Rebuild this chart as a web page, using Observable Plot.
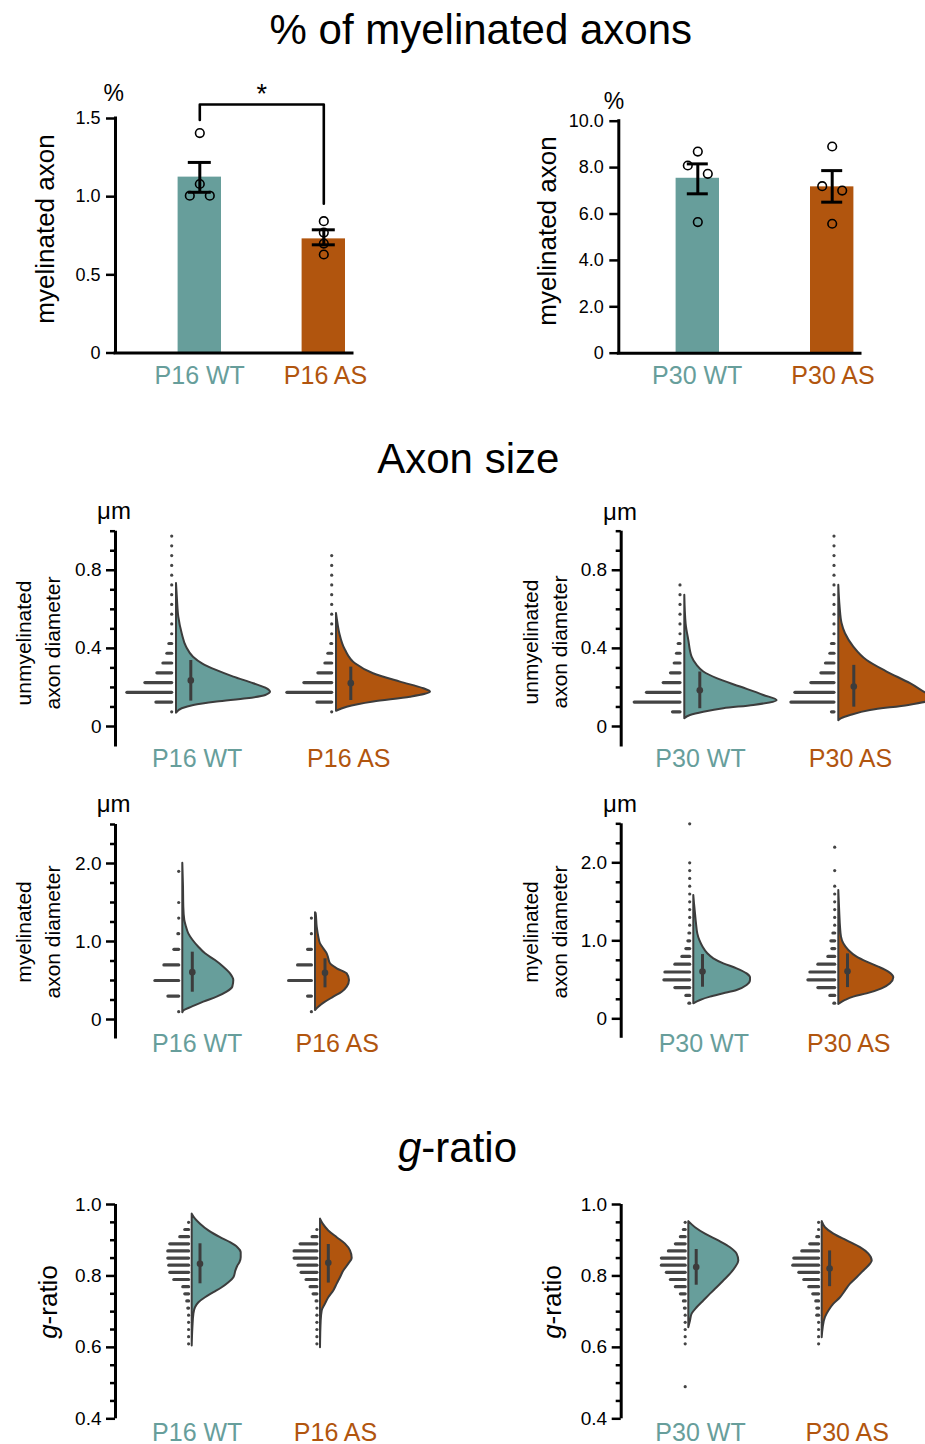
<!DOCTYPE html>
<html>
<head>
<meta charset="utf-8">
<script src="https://cdn.jsdelivr.net/npm/d3@7"></script>
<script src="https://cdn.jsdelivr.net/npm/@observablehq/plot@0.6"></script>
<style>
html, body { margin: 0; padding: 0; background: #fff; }
body { width: 925px; height: 1444px; position: relative; overflow: hidden;
  font-family: "Liberation Sans", Arial, Helvetica, sans-serif; color: #000; }
.t { position: absolute; white-space: nowrap; line-height: 1; }
.r { position: absolute; white-space: nowrap; text-align: center; transform: translate(-50%, -50%) rotate(-90deg); }
.panel { position: absolute; }
.panel svg { display: block; overflow: hidden; }
</style>
</head>
<body>
<script>
// ---------------- DATA ----------------
const groupsP16 = ["P16 WT", "P16 AS"];
const groupsP30 = ["P30 WT", "P30 AS"];

// % of myelinated axons (bar = mean, err = [lo, hi], pts = individual animals)
const pctP16Mean = [1.125, 0.730];
const pctP16Err = [[1.028, 1.219], [0.692, 0.788]];
const pctP16Pts = [[1.407, 1.081, 1.006, 1.006], [0.843, 0.770, 0.700, 0.630]];
const pctP16Ticks = [0, 0.5, 1.0, 1.5];
const pctP30Mean = [7.54, 7.17];
const pctP30Err = [[6.87, 8.16], [6.51, 7.87]];
const pctP30Pts = [[8.69, 8.09, 7.73, 5.65], [8.91, 7.20, 7.01, 5.58]];
const pctP30Ticks = [0, 2, 4, 6, 8, 10];
const sigBracketX = [0, 0, 1, 1];
const sigBracketY = [1.49, 1.59, 1.59, 0.955];

// Unmyelinated axon diameter (µm): kde = [value, density], hist = [bin, count], stat = [mean, lo, hi]
const uP16WT_kde = [[0.068,0],[0.091,5.7],[0.108,17.3],[0.125,40.7],[0.142,70.7],[0.159,89.3],[0.176,94],[0.193,90.7],[0.219,77.3],[0.253,57.3],[0.287,40],[0.321,26],[0.355,17],[0.407,10],[0.475,5.7],[0.56,2.3],[0.646,1],[0.732,0]];
const uP16WT_hist = [[0.075,0],[0.125,19],[0.175,48],[0.225,30],[0.275,18],[0.325,12],[0.375,8],[0.425,6],[0.475,2],[0.525,0],[0.575,0],[0.625,0],[0.675,0],[0.725,0],[0.775,0],[0.825,0],[0.875,0],[0.925,0],[0.975,0]];
const uP16WT_stat = [0.236, 0.130, 0.338];
const uP16AS_kde = [[0.078,0],[0.099,10.7],[0.125,37.3],[0.150,74],[0.176,94],[0.193,87.3],[0.227,64],[0.270,37],[0.321,19],[0.390,9],[0.475,3.3],[0.526,1.5],[0.578,0]];
const uP16AS_hist = [[0.075,0],[0.125,18],[0.175,48],[0.225,31],[0.275,17],[0.325,10],[0.375,7],[0.425,4],[0.475,1],[0.525,0],[0.575,0],[0.625,0],[0.675,0],[0.725,0],[0.775,0],[0.825,0],[0.875,0]];
const uP16AS_stat = [0.222, 0.133, 0.304];
const uP30WT_kde = [[0.040,0],[0.056,5.7],[0.073,19],[0.091,39],[0.108,69],[0.133,92.3],[0.159,79],[0.202,55.7],[0.245,32.3],[0.279,19],[0.313,12.3],[0.355,7.3],[0.441,4],[0.526,1.3],[0.672,0]];
const uP30WT_hist = [[0.075,10.7],[0.125,49],[0.175,36.7],[0.225,20],[0.275,12.7],[0.325,9],[0.375,6.7],[0.425,5],[0.475,2],[0.525,0],[0.575,0],[0.625,0],[0.675,0],[0.725,0]];
const uP30WT_stat = [0.185, 0.091, 0.279];
const uP30AS_kde = [[0.030,0],[0.040,3],[0.056,11.7],[0.082,31.7],[0.108,70],[0.125,88],[0.145,96],[0.168,88],[0.219,71.7],[0.279,48.3],[0.338,28.3],[0.407,15],[0.475,6.7],[0.526,3.3],[0.612,1.3],[0.723,0]];
const uP30AS_hist = [[0.075,5.7],[0.125,46.3],[0.175,42.3],[0.225,26.3],[0.275,16.3],[0.325,11.7],[0.375,7.3],[0.425,5.7],[0.475,3],[0.525,0],[0.575,0],[0.625,0],[0.675,0],[0.725,0],[0.775,0],[0.825,0],[0.875,0],[0.925,0],[0.975,0]];
const uP30AS_stat = [0.205, 0.099, 0.313];

// Myelinated axon diameter (µm)
const mP16WT_kde = [[0.086,0],[0.115,1.7],[0.158,9.3],[0.222,21],[0.286,34.3],[0.350,44.3],[0.415,50],[0.5,51],[0.585,47.7],[0.671,41],[0.756,32.7],[0.842,22.7],[0.927,16],[1.013,10.3],[1.098,6],[1.184,3.7],[1.269,2],[1.440,1],[1.697,0.7],[2.004,0]];
const mP16WT_hist = [[0.1,0],[0.3,14],[0.5,27],[0.7,18],[0.9,8],[1.1,4],[1.3,3],[1.5,2],[1.9,0]];
const mP16WT_stat = [0.607, 0.350, 0.863];
const mP16AS_kde = [[0.115,0],[0.158,3.3],[0.222,10],[0.286,18.3],[0.350,26.7],[0.415,31.7],[0.5,34],[0.585,31.7],[0.650,21.7],[0.714,15],[0.778,13.3],[0.842,11.7],[0.906,8.3],[0.970,5],[1.056,3.3],[1.184,1.7],[1.355,0.7],[1.368,0]];
const mP16AS_hist = [[0.1,0],[0.3,7],[0.5,26],[0.7,17],[0.9,7],[1.1,3],[1.3,0]];
const mP16AS_stat = [0.598, 0.406, 0.778];
const mP30WT_kde = [[0.192,0],[0.235,6.7],[0.278,16.7],[0.320,30],[0.363,43.3],[0.427,53.3],[0.491,56.7],[0.525,56.7],[0.576,53.3],[0.641,43.3],[0.705,30],[0.769,20],[0.833,14],[0.918,9.3],[1.004,6],[1.089,4],[1.217,2.7],[1.346,1.7],[1.474,0.7],[1.581,0]];
const mP30WT_hist = [[0.2,4],[0.3,7],[0.4,18],[0.5,29],[0.6,28],[0.7,18],[0.8,11],[0.9,7],[1.0,5],[1.1,4],[1.2,3],[1.3,2],[1.4,2],[1.5,1.5],[1.6,0],[1.7,0],[1.8,0],[1.9,0],[2.0,0],[2.5,0]];
const mP30WT_stat = [0.606, 0.405, 0.824];
const mP30AS_kde = [[0.183,0],[0.235,6.7],[0.278,15],[0.320,28.3],[0.384,43.3],[0.449,51.7],[0.525,55],[0.598,50],[0.662,40],[0.726,28.3],[0.790,18.3],[0.876,10],[0.961,5],[1.047,2.7],[1.175,1.7],[1.346,1],[1.645,0]];
const mP30AS_hist = [[0.2,4],[0.3,8],[0.4,20],[0.5,30],[0.6,28],[0.7,20],[0.8,10],[0.9,6],[1.0,7],[1.1,5],[1.2,3],[1.3,2.5],[1.4,2],[1.5,1.5],[1.6,1],[1.7,0],[1.9,0],[2.2,0]];
const mP30AS_stat = [0.610, 0.400, 0.833];

// g-ratio
const gP16WT_kde = [[0.604,0],[0.655,0.7],[0.693,1.7],[0.711,3.3],[0.725,6.7],[0.739,13.3],[0.753,21.7],[0.767,30],[0.781,36.7],[0.795,41.7],[0.814,43.7],[0.828,45.7],[0.837,47.7],[0.851,49],[0.865,49],[0.879,45.7],[0.893,38.3],[0.907,28.3],[0.926,16.7],[0.945,8.3],[0.959,3.3],[0.973,0]];
const gP16WT_hist = [[0.61,0],[0.63,2],[0.65,0],[0.67,2],[0.69,3],[0.71,4],[0.73,5],[0.75,7],[0.77,9],[0.79,18],[0.81,22],[0.83,23],[0.85,24],[0.87,24],[0.89,22],[0.91,12],[0.93,7],[0.95,2]];
const gP16WT_stat = [0.834, 0.778, 0.890];
const gP16AS_kde = [[0.599,0],[0.674,0.7],[0.702,1.7],[0.721,5],[0.739,8.3],[0.758,13.3],[0.777,16.7],[0.795,20],[0.814,23.3],[0.833,28.3],[0.849,31.7],[0.870,30],[0.889,25],[0.907,16.7],[0.926,8.3],[0.945,2.7],[0.959,0]];
const gP16AS_hist = [[0.61,0],[0.63,0],[0.65,2],[0.67,0],[0.69,2],[0.71,3],[0.73,4],[0.75,7],[0.77,10],[0.79,14],[0.81,19],[0.83,22],[0.85,26],[0.87,26],[0.89,20],[0.91,8],[0.93,3]];
const gP16AS_stat = [0.837, 0.780, 0.888];
const gP30WT_kde = [[0.655,0],[0.674,1.7],[0.693,3.3],[0.711,8.3],[0.730,15],[0.749,21.7],[0.767,28.3],[0.786,35],[0.805,41.7],[0.823,46.7],[0.842,50],[0.861,48.3],[0.879,41.7],[0.898,30],[0.917,16.7],[0.935,6.7],[0.952,0]];
const gP30WT_hist = [[0.49,0],[0.61,0],[0.63,0],[0.65,0],[0.67,2],[0.69,2],[0.71,4],[0.73,5],[0.75,8],[0.77,13],[0.79,18],[0.81,22],[0.83,27],[0.85,27],[0.87,20],[0.89,13],[0.91,8],[0.93,5],[0.95,0]];
const gP30WT_stat = [0.825, 0.774, 0.874];
const gP30AS_kde = [[0.627,0],[0.655,1],[0.684,3.3],[0.702,6.7],[0.721,11.7],[0.739,18.3],[0.758,23.3],[0.777,28.3],[0.795,35],[0.814,41.7],[0.833,48.3],[0.842,50],[0.861,46.7],[0.879,38.3],[0.898,25],[0.917,11.7],[0.935,3.3],[0.952,0]];
const gP30AS_hist = [[0.61,0],[0.63,0],[0.65,2],[0.67,3],[0.69,5],[0.71,5],[0.73,6],[0.75,9],[0.77,13],[0.79,18],[0.81,23],[0.83,29],[0.85,28],[0.87,20],[0.89,12],[0.91,5],[0.93,2],[0.95,0]];
const gP30AS_stat = [0.821, 0.770, 0.870];

const unmyelMajor = [0, 0.4, 0.8];
const unmyelMinor = [0.1, 0.2, 0.3, 0.5, 0.6, 0.7, 0.9, 1.0];
const myelMajor = [0, 1, 2];
const myelMinor = [0.25, 0.5, 0.75, 1.25, 1.5, 1.75, 2.25, 2.5];
const gMajor = [0.4, 0.6, 0.8, 1.0];
const gMinor = [0.45, 0.5, 0.55, 0.65, 0.7, 0.75, 0.85, 0.9, 0.95];

// ---------------- STYLE / LAYOUT ----------------
const FONT = '"Liberation Sans", Arial, Helvetica, sans-serif';
const COLORS = ["#679e9b", "#b1550e"];
const INK = "#3c3c3c";
const HIST = "#444444";

const L_pct16 = {left:0, top:80, W:462, H:320, axisX:115, g:[199.3,323.3], xEnd:352, yTop:118, yBot:352.5, dom:[0,1.5], labelX:[199.2,325], labelBase:383.3, barHW:21.7, capHW:11.5};
const L_pct30 = {left:462, top:80, W:463, H:320, axisX:618.3, g:[697.3,831.7], xEnd:860, yTop:120.7, yBot:352.7, dom:[0,10], labelX:[696.7,832.5], labelBase:383.3, barHW:21.7, capHW:10.5};
const L_u16 = {left:0, top:490, W:462, H:290, axisX:115, g:[176,336], dom:[-0.105,1.0], yTop:530.7, yBot:746.5, labelX:[196.7,348.3], labelBase:766.7, statDx:14.3, gap:2.7};
const L_u30 = {left:462, top:490, W:463, H:290, axisX:620.7, g:[684.3,838.3], dom:[-0.105,1.0], yTop:530.7, yBot:746.5, labelX:[700,850], labelBase:766.7, statDx:15, gap:2.7};
const L_m16 = {left:0, top:780, W:462, H:290, axisX:115, g:[182.3,315], dom:[-0.25,2.5], yTop:824, yBot:1038.5, labelX:[196.7,336.7], labelBase:1051.7, statDx:9.5, gap:2};
const L_m30 = {left:462, top:780, W:463, H:290, axisX:620.7, g:[693.3,838.3], dom:[-0.25,2.5], yTop:823.3, yBot:1037.8, labelX:[703.3,848.3], labelBase:1051.7, statDx:8.7, gap:2};
const L_g16 = {left:0, top:1180, W:462, H:264, axisX:115, g:[191.7,320], dom:[0.4,1.0], yTop:1204, yBot:1418.3, labelX:[196.7,335], labelBase:1440, statDx:7.8, gap:1.5};
const L_g30 = {left:462, top:1180, W:463, H:264, axisX:620.7, g:[688.3,821.7], dom:[0.4,1.0], yTop:1204, yBot:1418.3, labelX:[700,846.7], labelBase:1440, statDx:7.4, gap:1.5};

function fmtTick(d) { return d === 0 ? "0" : d.toFixed(1); }

function frame(L) {
  const sp = L.g[1] - L.g[0];
  const right = L.xEnd ?? (L.left + L.W);
  return {
    u: px => px / sp,
    xDom: [(L.axisX - L.g[0]) / sp, (right - L.g[0]) / sp],
    opts: {
      width: L.W, height: L.H,
      marginLeft: L.axisX - L.left, marginRight: L.left + L.W - right,
      marginTop: L.yTop - L.top, marginBottom: L.top + L.H - L.yBot
    }
  };
}

function mount(L, svg) {
  const div = document.createElement("div");
  div.className = "panel";
  div.style.left = L.left + "px";
  div.style.top = L.top + "px";
  div.appendChild(svg);
  document.body.appendChild(div);
}

function swarmOffsets(vals, pxPerVal, thr = 10, step = 20) {
  const idx = vals.map((v, k) => k).sort((a, b) => vals[b] - vals[a]);
  const off = new Array(vals.length).fill(0);
  let cluster = [idx[0]];
  const flush = () => { const n = cluster.length; cluster.forEach((k, j) => off[k] = (j - (n - 1) / 2) * step); };
  for (let j = 1; j < idx.length; j++) {
    if ((vals[idx[j - 1]] - vals[idx[j]]) * pxPerVal < thr) cluster.push(idx[j]);
    else { flush(); cluster = [idx[j]]; }
  }
  flush();
  return off;
}

function labelMarks(L, F, groups) {
  return groups.map((g, i) => Plot.text([g], {
    x: () => F.u(L.labelX[i] - L.g[0]), y: () => L.dom[0], text: d => d,
    dy: L.labelBase - L.yBot - 8, fill: COLORS[i], fontSize: 25
  }));
}

function barPanel(L, groups, means, errs, pts, ticks, withBracket) {
  const F = frame(L);
  const pxPerVal = (L.yBot - L.yTop) / (L.dom[1] - L.dom[0]);
  const marks = [];
  groups.forEach((g, i) => {
    marks.push(Plot.rect([means[i]], {x1: () => i - F.u(L.barHW), x2: () => i + F.u(L.barHW), y1: () => 0, y2: d => d, fill: COLORS[i]}));
  });
  marks.push(Plot.ruleX([0], {x: () => F.xDom[0], y1: () => L.dom[0], y2: () => L.dom[1], stroke: "#000", strokeWidth: 3, strokeLinecap: "square"}));
  marks.push(Plot.ruleY([0], {y: () => 0, x1: () => F.xDom[0], x2: () => F.xDom[1], stroke: "#000", strokeWidth: 3, strokeLinecap: "square"}));
  marks.push(Plot.axisY({ticks, tickSize: 9, tickPadding: 6, tickFormat: fmtTick, fontSize: 18, strokeWidth: 2.5, label: null}));
  groups.forEach((g, i) => {
    marks.push(Plot.ruleX([errs[i]], {x: () => i, y1: d => d[0], y2: d => d[1], stroke: "#000", strokeWidth: 3}));
    marks.push(Plot.ruleY(errs[i], {y: d => d, x1: () => i - F.u(L.capHW), x2: () => i + F.u(L.capHW), stroke: "#000", strokeWidth: 3}));
    const off = swarmOffsets(pts[i], pxPerVal);
    marks.push(Plot.dot(pts[i].map((v, k) => ({v, o: off[k]})), {x: d => i + F.u(d.o), y: "v", r: 4.3, stroke: "#000", strokeWidth: 1.6, fill: "none"}));
  });
  if (withBracket) {
    marks.push(Plot.line(sigBracketX.map((x, k) => ({x, y: sigBracketY[k]})), {x: "x", y: "y", stroke: "#000", strokeWidth: 2.6}));
    marks.push(Plot.text(["*"], {x: () => (sigBracketX[1] + sigBracketX[2]) / 2, y: () => sigBracketY[1], text: d => d, dy: -10, fontSize: 27, fill: "#000"}));
  }
  marks.push(...labelMarks(L, F, groups));
  mount(L, Plot.plot({
    ...F.opts,
    x: {domain: F.xDom, axis: null},
    y: {domain: L.dom, axis: null},
    style: {fontFamily: FONT, background: "transparent", overflow: "hidden", color: "#000"},
    marks
  }));
}

function violinPanel(L, groups, vios, major, minor) {
  const F = frame(L);
  const marks = [];
  const capR = 1.6;
  vios.forEach((v, i) => {
    marks.push(Plot.areaX(v.kde, {y: d => d[0], x1: () => i, x2: d => i + F.u(d[1]), fill: COLORS[i], stroke: INK, strokeWidth: 2, strokeLinejoin: "round", curve: "monotone-y"}));
    marks.push(Plot.ruleY(v.hist, {
      y: d => d[0],
      x1: () => i - F.u(L.gap + capR),
      x2: d => i - F.u(L.gap + capR + Math.max(0, d[1] - 2 * capR)),
      stroke: HIST, strokeWidth: 3.2, strokeLinecap: "round"
    }));
    marks.push(Plot.ruleX([v.stat], {x: () => i + F.u(L.statDx), y1: d => d[1], y2: d => d[2], stroke: INK, strokeWidth: 3}));
    marks.push(Plot.dot([v.stat], {x: () => i + F.u(L.statDx), y: d => d[0], r: 3.3, fill: INK}));
  });
  marks.push(Plot.ruleX([0], {x: () => F.xDom[0], y1: () => L.dom[0], y2: () => L.dom[1], stroke: "#000", strokeWidth: 3}));
  marks.push(Plot.axisY({ticks: minor, tickSize: 5, tickFormat: () => "", strokeWidth: 2.5, label: null}));
  marks.push(Plot.axisY({ticks: major, tickSize: 9, tickPadding: 5, tickFormat: fmtTick, fontSize: 19, strokeWidth: 2.5, label: null}));
  marks.push(...labelMarks(L, F, groups));
  mount(L, Plot.plot({
    ...F.opts,
    x: {domain: F.xDom, axis: null},
    y: {domain: L.dom, axis: null},
    style: {fontFamily: FONT, background: "transparent", overflow: "hidden", color: "#000"},
    marks
  }));
}

barPanel(L_pct16, groupsP16, pctP16Mean, pctP16Err, pctP16Pts, pctP16Ticks, true);
barPanel(L_pct30, groupsP30, pctP30Mean, pctP30Err, pctP30Pts, pctP30Ticks, false);
violinPanel(L_u16, groupsP16, [{kde: uP16WT_kde, hist: uP16WT_hist, stat: uP16WT_stat}, {kde: uP16AS_kde, hist: uP16AS_hist, stat: uP16AS_stat}], unmyelMajor, unmyelMinor);
violinPanel(L_u30, groupsP30, [{kde: uP30WT_kde, hist: uP30WT_hist, stat: uP30WT_stat}, {kde: uP30AS_kde, hist: uP30AS_hist, stat: uP30AS_stat}], unmyelMajor, unmyelMinor);
violinPanel(L_m16, groupsP16, [{kde: mP16WT_kde, hist: mP16WT_hist, stat: mP16WT_stat}, {kde: mP16AS_kde, hist: mP16AS_hist, stat: mP16AS_stat}], myelMajor, myelMinor);
violinPanel(L_m30, groupsP30, [{kde: mP30WT_kde, hist: mP30WT_hist, stat: mP30WT_stat}, {kde: mP30AS_kde, hist: mP30AS_hist, stat: mP30AS_stat}], myelMajor, myelMinor);
violinPanel(L_g16, groupsP16, [{kde: gP16WT_kde, hist: gP16WT_hist, stat: gP16WT_stat}, {kde: gP16AS_kde, hist: gP16AS_hist, stat: gP16AS_stat}], gMajor, gMinor);
violinPanel(L_g30, groupsP30, [{kde: gP30WT_kde, hist: gP30WT_hist, stat: gP30WT_stat}, {kde: gP30AS_kde, hist: gP30AS_hist, stat: gP30AS_stat}], gMajor, gMinor);

// ---------------- TEXT ----------------
function addText(html, cx, baseline, fs) {
  const d = document.createElement("div");
  d.className = "t";
  d.innerHTML = html;
  d.style.fontSize = fs + "px";
  d.style.left = cx + "px";
  d.style.top = (baseline - 0.8465 * fs) + "px";
  d.style.transform = "translateX(-50%)";
  document.body.appendChild(d);
}
function addRot(html, cx, cy, fs, lh) {
  const d = document.createElement("div");
  d.className = "r";
  d.innerHTML = html;
  d.style.fontSize = fs + "px";
  d.style.lineHeight = (lh || fs) + "px";
  d.style.left = cx + "px";
  d.style.top = cy + "px";
  document.body.appendChild(d);
}

addText("% of myelinated axons", 480.8, 45, 42);
addText("Axon size", 468.3, 473.3, 42);
addText("<i>g</i>-ratio", 457.5, 1162.7, 42);

addText("%", 113.7, 101.7, 23);
addText("%", 614, 109.3, 23);
addText("μm", 114, 519, 24);
addText("μm", 620, 520, 24);
addText("μm", 113.7, 812, 24);
addText("μm", 620, 812, 24);

addRot("myelinated axon", 45, 229, 26);
addRot("myelinated axon", 546.7, 230.8, 26);
addRot("unmyelinated<br>axon diameter", 37.5, 643, 21, 29);
addRot("unmyelinated<br>axon diameter", 544.8, 641.7, 21, 29);
addRot("myelinated<br>axon diameter", 38.3, 932, 21, 29);
addRot("myelinated<br>axon diameter", 545, 931.7, 21, 29);
addRot("<i>g</i>-ratio", 47.5, 1302, 26);
addRot("<i>g</i>-ratio", 551.7, 1302, 26);
</script>
</body>
</html>
